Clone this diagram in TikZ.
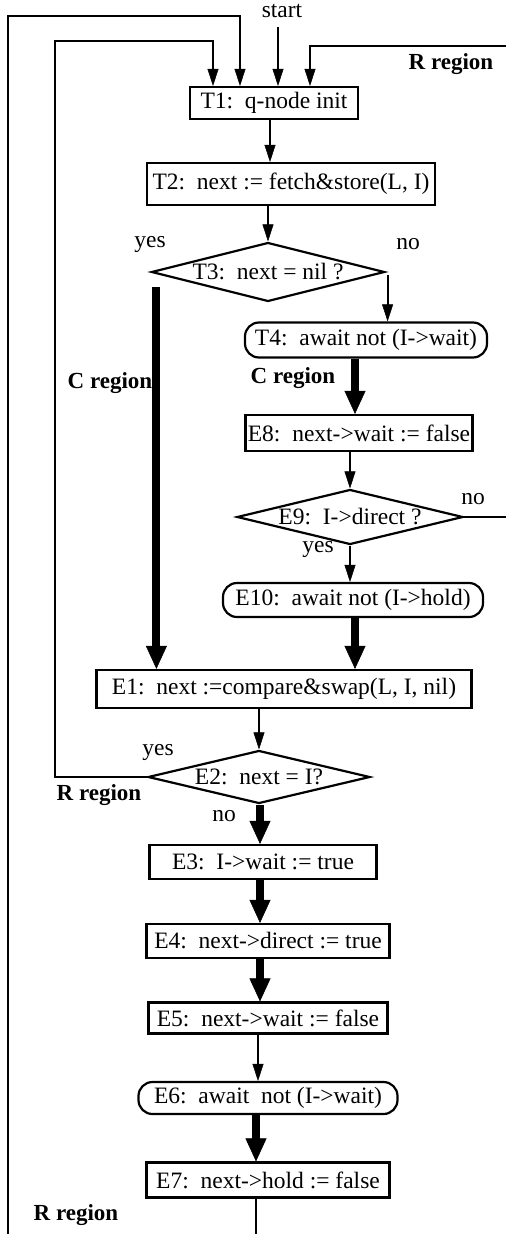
\documentclass[tikz,border=0pt]{standalone}
\usepackage{fontspec}
\setmainfont{Liberation Serif}
\usepackage{tikz}
\usetikzlibrary{arrows.meta,positioning,shapes.geometric,calc}

\begin{document}
\begin{tikzpicture}[x=1pt,y=-1pt,font=\fontsize{23.5}{27}\selectfont]
    \tikzstyle{b}=[draw,line width=2.2pt,inner sep=0pt]
    \tikzstyle{pill}=[b,rounded corners=14pt]
    \tikzstyle{dia}=[b,diamond]
    \tikzstyle{a}=[-{Triangle[width=11pt,length=17pt,line width=0.5pt]},line width=2.2pt]
    \tikzstyle{fat}=[-{Triangle[width=21pt,length=23pt,line width=0.5pt]},line width=8pt]
    \tikzstyle{reg}=[font=\fontsize{23}{27}\selectfont\bfseries]
    \useasboundingbox (0,0) rectangle (506,1234);
    % steps
    \node[b,minimum width=168,minimum height=32]    (t1)  at (274,103)  {T1:\ \ q-node init};
    \node[b,minimum width=288,minimum height=42]    (t2)  at (291,184)  {T2:\ \ next := fetch\&store(L, I)};
    \node[dia,minimum width=233,minimum height=59]  (t3)  at (268,272)  {\makebox[0pt]{T3:\ \ next = nil ?}};
    \node[pill,minimum width=242,minimum height=35] (t4)  at (366,340)  {T4:\ \ await not (I->wait)};
    \node[b,minimum width=227,minimum height=36]    (e8)  at (359,433)  {E8:\ \ next->wait := false};
    \node[dia,minimum width=226,minimum height=55]  (e9)  at (350,517)  {\makebox[0pt]{E9:\ \ I->direct ?}};
    \node[pill,minimum width=260,minimum height=34] (e10) at (353,600)  {E10:\ \ await not (I->hold)};
    \node[b,minimum width=375,minimum height=38]    (e1)  at (284,689)  {E1:\ \ next :=compare\&swap(L, I, nil)};
    \node[dia,minimum width=222,minimum height=53]  (e2)  at (259,777)  {\makebox[0pt]{E2:\ \ next = I?}};
    \node[b,minimum width=227,minimum height=34]    (e3)  at (263,862)  {E3:\ \ I->wait := true};
    \node[b,minimum width=243,minimum height=34]    (e4)  at (268,941)  {E4:\ \ next->direct := true};
    \node[b,minimum width=239,minimum height=31]    (e5)  at (268,1018) {E5:\ \ next->wait := false};
    \node[pill,minimum width=259,minimum height=32] (e6)  at (268,1098) {E6:\ \ await\ \ not (I->wait)};
    \node[b,minimum width=243,minimum height=35]    (e7)  at (268,1180) {E7:\ \ next->hold := false};
    % labels
    \node (lstart) at (282,11)  {start};
    \node (ly3)    at (150,244) {yes};
    \node (ln3)    at (408,244) {no};
    \node (ln9)    at (473,499) {no};
    \node (ly9)    at (318,549) {yes};
    \node (ly2)    at (158,752) {yes};
    \node (ln2)    at (224,816) {no};
    \node[reg] (rtop) at (451,64)   {R region};
    \node[reg] (cl)   at (110,383)  {C region};
    \node[reg] (cr)   at (293,378)  {C region};
    \node[reg] (rmid) at (99,795)   {R region};
    \node[reg] (rbot) at (76,1215)  {R region};
    % free ends
    \coordinate (s0)   at (278,27);
    \coordinate (rin)  at (506,46);
    \coordinate (lo)   at (8,1234);
    \coordinate (nout) at (506,517);
    \coordinate (eo)   at (256,1234);
    % into T1
    \draw[a] (s0) -- (s0 |- t1.north);
    \draw[a] (lo) -- (8,16) -| ([xshift=-34]t1.north);
    \draw[a] (e2.west) -| (55,41) -| ([xshift=-61]t1.north);
    \draw[a] (rin) -| ([xshift=36]t1.north);
    % main flow
    \draw[a] ([xshift=-4]t1.south) -- ([xshift=-4]t1.south |- t2.north);
    \draw[a] (t3.north |- t2.south) -- (t3.north);
    \draw[a] ([xshift=2,yshift=-3]t3.east) -- ([xshift=2]t3.east |- t4.north);
    \draw[fat] ([xshift=6,yshift=-15]t3.west) -- ([xshift=6]t3.west |- e1.north);
    \draw[fat] ([xshift=-11]t4.south) -- ([xshift=-11]t4.south |- e8.north);
    \draw[a] (e9.north |- e8.south) -- (e9.north);
    \draw[line width=2.2pt] (e9.east) -- (nout);
    \draw[a] (e9.south) -- (e9.south |- e10.north);
    \draw[fat] ([xshift=2]e10.south) -- ([xshift=2]e10.south |- e1.north);
    \draw[a] (e2.north |- e1.south) -- (e2.north);
    \draw[fat] ([xshift=1]e2.south) -- ([xshift=1]e2.south |- e3.north);
    \draw[fat] ([xshift=-3]e3.south) -- ([xshift=-3]e3.south |- e4.north);
    \draw[fat] ([xshift=-8]e4.south) -- ([xshift=-8]e4.south |- e5.north);
    \draw[a] ([xshift=-10]e5.south) -- ([xshift=-10]e5.south |- e6.north);
    \draw[fat] ([xshift=-12]e6.south) -- ([xshift=-12]e6.south |- e7.north);
    \draw[line width=2.2pt] ([xshift=-12]e7.south) -- (eo);
  \end{tikzpicture}
\end{document}
